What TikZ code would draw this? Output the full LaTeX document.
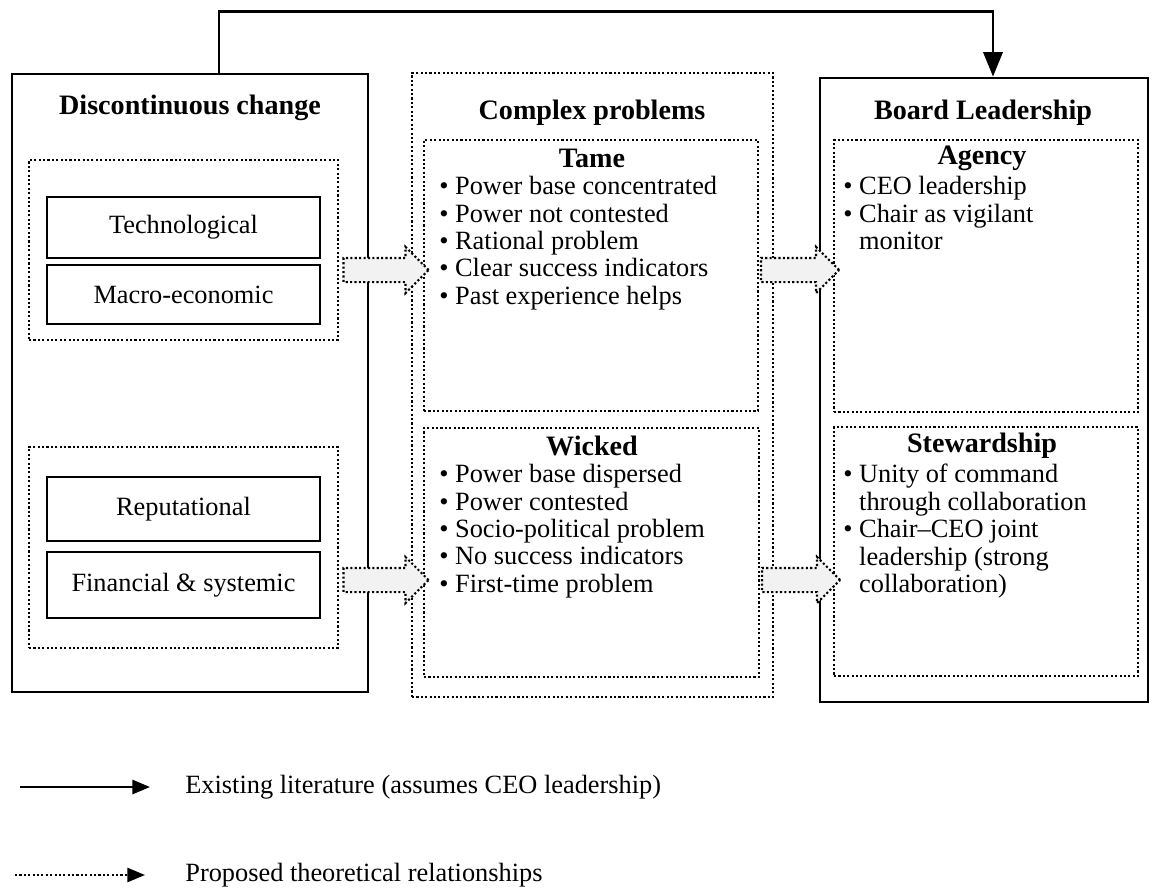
\documentclass[tikz,border=0pt]{standalone}
\usepackage{fontspec}
\setmainfont{Liberation Serif}
\usepackage{tikz}
\usetikzlibrary{positioning, fit, shapes.arrows, arrows.meta}

\tikzset{
	outerbox/.style={
			shape=rectangle,
			draw=black,
			line width=1.6pt,
			inner sep=0pt
		},
	groupbox/.style={
			shape=rectangle,
			draw=black,
			line width=1.2pt,
			dash pattern=on 1.2pt off 1.3pt,
			inner sep=0pt
		},
	factorbox/.style={
			shape=rectangle,
			draw=black,
			line width=1.1pt,
			inner sep=0pt
		},
	fatarrow/.style={
			single arrow,
			draw=black,
			fill=gray!10,
			line width=1.2pt,
			dash pattern=on 1.2pt off 1.3pt,
			minimum height=1.7cm,
			minimum width=0pt,
			inner xsep=0pt,
			inner ysep=0.22cm,
			single arrow head extend=0.22cm
		}
}
\tikzset{
	titletext/.style={font=\fontsize{16}{19}\selectfont\bfseries},
	bodytext/.style={font=\fontsize{15}{15.6}\selectfont, align=left, inner sep=0pt},
	factortext/.style={font=\fontsize{15}{18}\selectfont}
}

\begin{document}
\begin{tikzpicture}[x=0.02cm, y=-0.02cm]
  \useasboundingbox (0,0) rectangle (1163,887);

  % outer columns
  \node[outerbox, fit={(12,74) (368,692)}] (disc) {};
  \node[groupbox, fit={(412,73) (773,697)}] (complex) {};
  \node[outerbox, fit={(820,78) (1148,702)}] (board) {};

  \node[titletext] (disctitle) at (190,108) {Discontinuous change};
  \node[titletext] (complextitle) at (592,113) {Complex problems};
  \node[titletext] (boardtitle) at (983,113) {Board Leadership};

  % kinds of change
  \node[groupbox, fit={(29,160) (338,340)}] (grpA) {};
  \node[groupbox, fit={(29,447) (338,648)}] (grpB) {};

  \node[factorbox, fit={(47,197) (320,258)}] (tech) {};
  \node[factorbox, fit={(47,265) (320,324)}] (macro) {};
  \node[factorbox, fit={(47,477) (320,541)}] (repu) {};
  \node[factorbox, fit={(47,552) (320,618)}] (fin) {};

  \node[factortext] at (tech) {Technological};
  \node[factortext] at (macro) {Macro-economic};
  \node[factortext] at (repu) {Reputational};
  \node[factortext] at (fin) {Financial \& systemic};

  % problem types
  \node[groupbox, fit={(424,140) (758,411)}] (tame) {};
  \node[groupbox, fit={(424,428) (759,677)}] (wicked) {};
  \node[titletext] at (592,158) {Tame};
  \node[titletext] at (592,446) {Wicked};

  \node[bodytext, anchor=north west] (tamelist) at (439,176) {%
    \textbullet\ Power base concentrated\\
    \textbullet\ Power not contested\\
    \textbullet\ Rational problem\\
    \textbullet\ Clear success indicators\\
    \textbullet\ Past experience helps};
  \node[bodytext, anchor=north west] (wickedlist) at (439,464) {%
    \textbullet\ Power base dispersed\\
    \textbullet\ Power contested\\
    \textbullet\ Socio-political problem\\
    \textbullet\ No success indicators\\
    \textbullet\ First-time problem};

  % leadership types
  \node[groupbox, fit={(834,140) (1138,412)}] (agency) {};
  \node[groupbox, fit={(834,427) (1138,676)}] (steward) {};
  \node[titletext] at (982,158) {Agency};
  \node[titletext] at (982,446) {Stewardship};

  \node[bodytext, anchor=north west] (agencylist) at (843,176) {%
    \textbullet\ CEO leadership\\
    \textbullet\ Chair as vigilant\\
    \phantom{\textbullet\ }monitor};
  \node[bodytext, anchor=north west] (stewardlist) at (843,464) {%
    \textbullet\ Unity of command\\
    \phantom{\textbullet\ }through collaboration\\
    \textbullet\ Chair--CEO joint\\
    \phantom{\textbullet\ }leadership (strong\\
    \phantom{\textbullet\ }collaboration)};

  % proposed relationships
  \node[fatarrow] (arrA) at (380,270) {};
  \node[fatarrow] (arrB) at (380,580) {};
  \node[fatarrow, minimum height=1.56cm] (arrC) at (794,270) {};
  \node[fatarrow, minimum height=1.56cm] (arrD) at (795,580) {};

  % existing literature link
  \draw[line width=1.6pt, -{Triangle[length=14pt, width=11pt]}]
    ([xshift=0.58cm]disc.north) |- ([xshift=0.18cm, yshift=1.3cm]board.north)
    -- ([xshift=0.18cm]board.north);

  % legend
  \coordinate (solidA) at (20,787);
  \coordinate (solidB) at (150,787);
  \coordinate (dotA) at (15,875);
  \coordinate (dotB) at (145,875);
  \draw[line width=1.4pt, -{Triangle[length=10pt, width=8pt]}] (solidA) -- (solidB);
  \draw[line width=1.2pt, dash pattern=on 1.2pt off 1.3pt, -{Triangle[length=10pt, width=8pt]}] (dotA) -- (dotB);
  \node[factortext, anchor=west, inner sep=0pt] (solidlabel) at (185,787) {Existing literature (assumes CEO leadership)};
  \node[factortext, anchor=west, inner sep=0pt] (dotlabel) at (185,875) {Proposed theoretical relationships};

\end{tikzpicture}
\end{document}
